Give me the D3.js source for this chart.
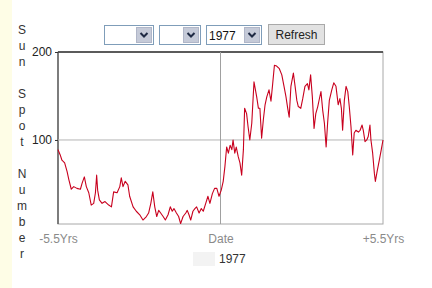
<!DOCTYPE html>
<html><head><meta charset="utf-8">
<script src="https://cdn.jsdelivr.net/npm/d3@7"></script>
<style>body{margin:0;background:#fff;}svg{display:block;font-family:"Liberation Sans",Arial,sans-serif;}</style>
</head><body><div id="chart"></div>
<script>
// months since start of window (-5.5 yrs = 0, +5.5 yrs = 132)
const months = [0,0.9,1.6,2.7,3.7,4.4,5.4,6.4,7.7,9.1,9.8,10.7,11.5,12.5,13.5,14.5,15.2,15.7,16.1,16.8,17.9,19.1,20.6,21.7,22.6,24.0,25.1,25.7,26.4,27.3,28.4,29.1,30.5,31.8,33.2,34.5,35.9,36.8,37.7,38.5,39.3,40.1,40.9,41.7,42.7,43.6,44.7,45.6,46.4,47.1,48.1,49.0,49.8,50.8,51.9,52.5,53.2,53.9,54.8,55.6,56.3,57.3,58.2,59.0,60.0,60.9,61.7,62.7,63.6,64.5,65.4,66.3,67.1,67.8,68.5,69.2,69.9,70.6,71.1,71.8,72.4,73.2,73.9,74.6,75.3,75.8,76.6,77.2,77.9,78.7,79.6,80.7,81.4,82.0,82.7,83.4,84.1,84.8,85.7,86.5,87.2,87.9,88.8,89.9,90.9,91.8,92.6,93.3,93.9,94.6,95.6,96.3,97.0,97.6,98.6,99.4,100.3,101.3,101.9,102.6,103.3,104.0,104.7,105.5,106.1,106.8,107.5,108.2,108.9,109.5,110.2,111.2,112.0,112.9,113.8,114.5,115.1,115.6,116.3,117.0,117.7,118.3,119.0,119.7,120.3,121.0,122.0,122.7,123.5,124.0,124.7,125.4,126.0,126.7,127.1,127.8,128.5,128.9,129.6,130.5,131.3,132];
const sunspots = [89,83,77,74,64,55,44,47,45,44,51,58,47,40,26,28,40,60,43,32,28,30,26,24,41,40,47,57,47,53,49,36,24,19,15,9,13,17,28,41,24,13,20,17,13,9,15,24,19,22,17,13,5,13,17,20,15,9,19,22,24,17,22,19,28,36,28,39,45,45,36,43,53,70,92,85,94,89,100,85,92,81,74,60,89,136,130,115,100,119,166,149,136,136,102,123,140,149,157,144,164,185,184,181,174,161,149,136,126,161,176,161,145,138,136,147,161,164,157,174,149,113,130,138,146,155,134,119,92,119,145,157,165,161,140,147,136,111,145,161,155,138,115,83,108,111,109,111,117,111,98,100,104,117,100,85,62,53,64,77,89,100];
const yTicks = [100, 200];
const xTickLabels = ["-5.5Yrs", "Date", "+5.5Yrs"];
const xTickMonths = [0, 66, 132];
const axisTitle = ["S","u","n","","S","p","o","t","","N","u","m","b","e","r"];
const yearLabel = "1977";
const buttonLabel = "Refresh";

(function () {
const W = 432, H = 288;
const svg = d3.select("#chart").append("svg").attr("width", W).attr("height", H);
svg.append("rect").attr("width", W).attr("height", H).attr("fill", "#fff");
svg.append("rect").attr("x", 0).attr("y", 0).attr("width", 12).attr("height", H).attr("fill", "#fefde6");

const pL = 58, pR = 383, pT = 52, pB = 224;
const x = d3.scaleLinear().domain([0, 132]).range([pL, pR]);
const y = d3.scaleLinear().domain([4.5, 200]).range([pB, pT]);

// frame
svg.append("rect").attr("x", pL).attr("y", pT).attr("width", pR - pL).attr("height", pB - pT)
  .attr("fill", "#fff").attr("stroke", "#a8a8a8").attr("stroke-width", 1);
svg.append("line").attr("x1", pL).attr("x2", pR).attr("y1", pT).attr("y2", pT).attr("stroke", "#333").attr("stroke-width", 1.5);
svg.append("line").attr("x1", pL).attr("x2", pL).attr("y1", pT).attr("y2", pB).attr("stroke", "#444").attr("stroke-width", 1.2);

// grid
svg.append("line").attr("x1", pL).attr("x2", pR).attr("y1", y(100)).attr("y2", y(100)).attr("stroke", "#b4b4b4").attr("stroke-width", 1);
svg.append("line").attr("x1", x(66)).attr("x2", x(66)).attr("y1", pT).attr("y2", pB).attr("stroke", "#a0a0a0").attr("stroke-width", 1);

// y axis
const yAxis = svg.append("g").attr("transform", `translate(${pL},0)`)
  .call(d3.axisLeft(y).tickValues(yTicks).tickSize(3).tickPadding(3).tickFormat(d3.format("d")));
yAxis.select(".domain").remove();
yAxis.selectAll("line").attr("stroke", "#333");
yAxis.selectAll("text").attr("font-size", 12).attr("fill", "#222").attr("font-family", "Liberation Sans, Arial, sans-serif");

// x axis labels
const xAxis = svg.append("g").attr("transform", `translate(0,${pB})`)
  .call(d3.axisBottom(x).tickValues(xTickMonths).tickSize(0).tickPadding(10).tickFormat((d, i) => xTickLabels[i]));
xAxis.select(".domain").remove();
xAxis.selectAll("text").attr("font-size", 12).attr("fill", "#8a8a8a").attr("font-family", "Liberation Sans, Arial, sans-serif");

// line
const data = months.map((m, i) => ({m, v: sunspots[i]}));
svg.append("path").datum(data)
  .attr("fill", "none").attr("stroke", "#c8001e").attr("stroke-width", 1.1).attr("stroke-linejoin", "round")
  .attr("d", d3.line().x(d => x(d.m)).y(d => y(d.v)));

// vertical axis title
svg.append("g").selectAll("text").data(axisTitle).join("text")
  .attr("x", 22).attr("y", (d, i) => 34 + i * 16.0)
  .attr("text-anchor", "middle").attr("font-size", 12).attr("fill", "#333")
  .text(d => d);

// legend
svg.append("rect").attr("x", 193).attr("y", 252).attr("width", 22).attr("height", 14).attr("fill", "#f3f3f3");
svg.append("text").attr("x", 219).attr("y", 263).attr("font-size", 12).attr("fill", "#333").text(yearLabel);

// controls
function selectBox(x0, w, label) {
  const g = svg.append("g");
  g.append("rect").attr("x", x0 + 0.5).attr("y", 25.5).attr("width", w).attr("height", 19).attr("fill", "#fff").attr("stroke", "#7f9db9");
  g.append("rect").attr("x", x0 + w - 16.5).attr("y", 27.5).attr("width", 15).attr("height", 15).attr("fill", "#c5cad8").attr("stroke", "#b0b6c8");
  g.append("path").attr("d", `M${x0 + w - 12.5},33 l3.5,3.5 l3.5,-3.5`).attr("fill", "none").attr("stroke", "#1f2a44").attr("stroke-width", 2);
  if (label) g.append("text").attr("x", x0 + 3).attr("y", 40).attr("font-size", 12).attr("fill", "#111").text(label);
}
selectBox(104, 49, "");
selectBox(159, 41, "");
selectBox(206, 55, yearLabel);
svg.append("rect").attr("x", 268.5).attr("y", 24.5).attr("width", 56).attr("height", 20).attr("fill", "#e2e2e2").attr("stroke", "#a9a9a9");
svg.append("text").attr("x", 296.5).attr("y", 39).attr("text-anchor", "middle").attr("font-size", 12).attr("fill", "#222").text(buttonLabel);
})();
</script></body></html>
